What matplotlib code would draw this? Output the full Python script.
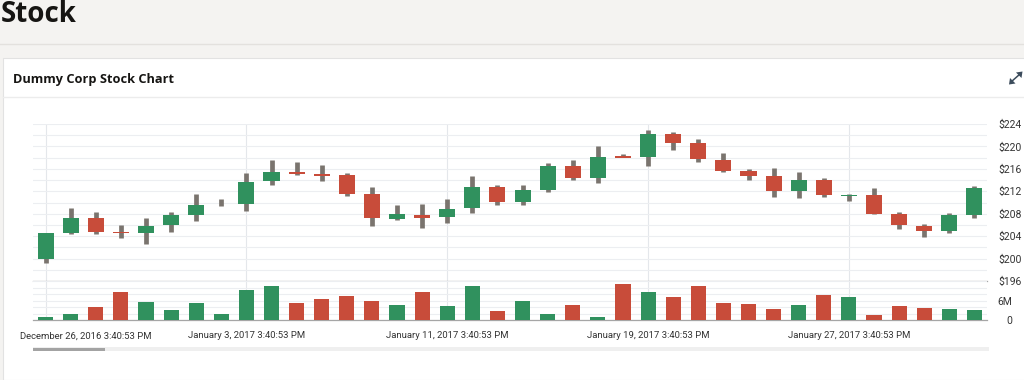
import numpy as np
import pandas as pd
import matplotlib
matplotlib.use("Agg")
import matplotlib.pyplot as plt
import matplotlib.transforms as mtransforms
from matplotlib.patches import Rectangle, Polygon
from matplotlib.lines import Line2D

plt.rcParams['font.family'] = ['Roboto', 'DejaVu Sans']

# daily candles, dummy data
dates = pd.date_range("2016-12-26 15:40:53", periods=38, freq="D")
opens = [200.0, 204.6, 207.2, 204.8, 204.5, 205.9, 207.7, 210.0, 209.7, 213.8,
         215.4, 215.0, 214.9, 211.5, 207.1, 207.8, 207.4, 209.0, 212.8, 210.1,
         212.2, 216.5, 214.3, 218.25, 218.2, 222.2, 220.6, 217.6, 215.6, 214.7,
         212.1, 214.1, 211.2, 211.3, 207.9, 205.8, 205.0, 207.8]
highs = [204.6, 209.0, 208.3, 206.0, 207.2, 208.3, 211.5, 210.6, 215.2, 217.5,
         217.2, 216.6, 215.2, 212.8, 209.6, 209.7, 210.6, 214.7, 213.2, 213.1,
         217.0, 217.6, 220.1, 218.7, 223.0, 222.5, 221.4, 218.8, 216.0, 216.2,
         215.4, 214.3, 211.6, 212.5, 208.25, 206.2, 208.1, 212.9]
lows = [199.2, 204.3, 204.3, 203.6, 202.6, 204.7, 206.7, 209.4, 208.5, 213.1,
        214.9, 213.8, 211.2, 205.8, 206.9, 205.4, 206.4, 208.2, 209.6, 209.6,
        211.9, 214.1, 213.5, 218.1, 216.5, 219.4, 217.2, 215.5, 214.1, 210.9,
        210.8, 210.9, 210.3, 207.9, 205.3, 203.8, 204.5, 207.2]
closes = [204.6, 207.2, 204.8, 204.5, 205.8, 207.7, 209.6, 210.0, 213.7, 215.4,
          215.1, 214.8, 211.5, 207.2, 207.9, 207.3, 208.9, 212.8, 210.1, 212.2,
          216.5, 214.3, 218.2, 218.0, 222.2, 220.7, 217.7, 215.6, 214.7, 212.1,
          214.1, 211.3, 211.4, 207.9, 205.9, 205.0, 207.7, 212.6]
volumes = [1.0, 1.9, 4.0, 8.6, 5.6, 3.1, 5.3, 1.9, 9.4, 10.5,
           5.2, 6.5, 7.5, 5.9, 4.6, 8.5, 4.4, 10.6, 2.9, 6.0,
           2.0, 4.8, 1.1, 11.0, 8.6, 7.1, 10.4, 5.2, 4.9, 3.4,
           4.6, 7.8, 7.1, 1.7, 4.4, 3.8, 3.4, 3.0]  # millions

price_ticks = [196, 200, 204, 208, 212, 216, 220, 224]
tick_every = 8

GREEN = "#30915e"
RED = "#c84c3a"
WICK = "#7a746e"

o = np.array(opens)
c = np.array(closes)
x = np.arange(len(dates))
up = c >= o
colors = np.where(up, GREEN, RED)

fig = plt.figure(figsize=(10.24, 3.8), dpi=100)
fig.patch.set_facecolor("#f4f3f1")

W, H = 1024.0, 380.0
def fx(px):
    return px / W
def fy(py):
    return 1 - py / H

# page header + card
fig.add_artist(Line2D([0, 1], [fy(44), fy(44)], color="#e3e1de", lw=1))
fig.add_artist(Rectangle((fx(3), 0), 1, fy(58), facecolor="white",
                         edgecolor="#e2e2e2", lw=0.8, zorder=0))
fig.add_artist(Line2D([fx(3), 1], [fy(97), fy(97)], color="#ececec", lw=1))
fig.text(fx(1), fy(14), "Stock", fontsize=20, fontweight="bold",
         color="#161513", va="center", ha="left", family=["Open Sans", "DejaVu Sans"])
fig.text(fx(13), fy(79), "Dummy Corp Stock Chart", fontsize=9.2, fontweight="bold",
         color="#161513", va="center", ha="left", family=["Open Sans", "DejaVu Sans"])

# expand icon (drawn, not a glyph)
icon = "#3c4c5c"
fig.add_artist(Line2D([fx(1011), fx(1020)], [fy(82), fy(74)], color=icon, lw=1.1))
fig.add_artist(Polygon([(fx(1022.5), fy(71.5)), (fx(1016), fy(72.5)), (fx(1021.5), fy(78))],
                       closed=True, color=icon, lw=0))
fig.add_artist(Polygon([(fx(1009), fy(84.5)), (fx(1015.5), fy(83.5)), (fx(1010), fy(78))],
                       closed=True, color=icon, lw=0))

left, right = fx(33), fx(987)
ax = fig.add_axes([left, fy(281), right - left, fy(124) - fy(281)])
axv = fig.add_axes([left, fy(320.3), right - left, fy(281) - fy(320.3)], sharex=ax)

# price pane
ax.vlines(x, lows, highs, color=WICK, lw=3.4, zorder=2)
ax.bar(x, np.abs(c - o), bottom=np.minimum(o, c), width=0.64, color=colors,
       lw=0, zorder=3)
ax.set_ylim(196, 224)
ax.set_xlim(-0.5, len(dates) - 0.5)
ax.set_yticks(price_ticks)
ax.set_yticklabels([f"${t}" for t in price_ticks])
ax.set_yticks(np.arange(196, 225, 2), minor=True)
ax.yaxis.tick_right()
ax.tick_params(axis="y", which="both", length=0, pad=8, labelsize=7.5, colors="#333333")
ax.tick_params(axis="x", which="both", length=0, labelbottom=False)
ax.grid(True, which="both", axis="y", color="#eceef1", lw=0.8, zorder=0)
ax.grid(True, which="major", axis="x", color="#e4e7eb", lw=0.8, zorder=0)
for s in ["top", "left", "right"]:
    ax.spines[s].set_visible(False)
ax.spines["bottom"].set_color("#a6a6a6")
ax.spines["bottom"].set_linewidth(0.9)
ax.set_axisbelow(True)

# volume pane
axv.bar(x, volumes, width=0.6, color=colors, zorder=3)
axv.set_ylim(0, 12)
axv.set_yticks([0, 6])
axv.set_yticklabels(["0", "6M"])
axv.set_yticks(np.arange(0, 13, 2), minor=True)
axv.yaxis.tick_right()
axv.tick_params(axis="y", which="both", length=0, pad=18, labelsize=7.5, colors="#333333")
for lab in axv.get_yticklabels():
    lab.set_horizontalalignment("right")
axv.grid(True, which="both", axis="y", color="#eceef1", lw=0.8, zorder=0)
axv.grid(True, which="major", axis="x", color="#e4e7eb", lw=0.8, zorder=0)
for s in ["top", "left", "right"]:
    axv.spines[s].set_visible(False)
axv.spines["bottom"].set_color("#a6a6a6")
axv.spines["bottom"].set_linewidth(0.9)
axv.set_axisbelow(True)

ticks = x[::tick_every]
axv.set_xticks(ticks)
axv.set_xticklabels([d.strftime("%B %-d, %Y %-I:%M:%S %p") for d in dates[::tick_every]])
axv.tick_params(axis="x", length=0, pad=8, labelsize=6.8, colors="#333333")
first = axv.get_xticklabels()[0]
first.set_transform(first.get_transform() +
                    mtransforms.ScaledTranslation(40 / 100, 0, fig.dpi_scale_trans))

# overview scrollbar
fig.add_artist(Rectangle((fx(33), fy(351)), fx(989) - fx(33), fy(347) - fy(351),
                         facecolor="#efefef", edgecolor="none"))
fig.add_artist(Rectangle((fx(33), fy(350.5)), fx(105) - fx(33), fy(347.5) - fy(350.5),
                         facecolor="#a3a3a3", edgecolor="none"))

fig.savefig("out.png", dpi=100, facecolor=fig.get_facecolor())
